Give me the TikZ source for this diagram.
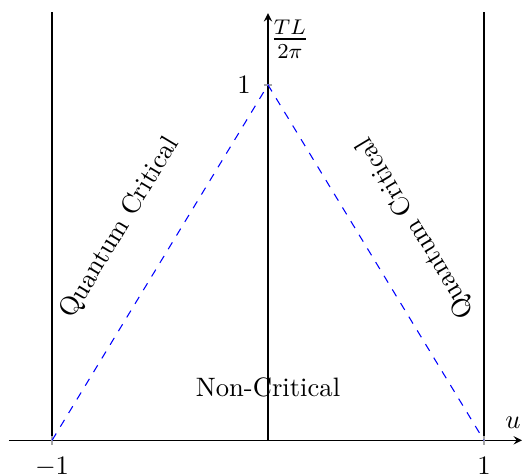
\documentclass[tikz,border=0pt]{standalone}
\usepackage{amsmath,amssymb}
\usetikzlibrary{arrows.meta,positioning,calc}

\begin{document}
\begin{tikzpicture}[x=2.85cm, y=4.69cm,
  axisline/.style={-stealth},
  wall/.style={thick},
  tickmark/.style={gray!70, line width=0.5pt},
  guide/.style={blue, dashed},
  regionlabel/.style={font=\normalsize}]
\useasboundingbox (-1.241,-0.098) rectangle (1.19,1.239);
% axes
\coordinate (xl) at (-1.2,0);
\coordinate (xr) at (1.176,0);
\coordinate (yb) at (0,0);
\coordinate (yt) at (0,1.202);
\draw[axisline] (xl) -- (xr) node[above left=1pt and -3pt] (ulab) {$u$};
\draw[axisline] (yb) -- (yt) node[below right=-1pt and -2.5pt, font=\fontsize{11.5}{13}\selectfont] (tlab) {$\frac{TL}{2\pi}$};
% walls at u = -1 and u = 1
\foreach \s/\n in {-1/wl,1/wr} {
  \coordinate (\n b) at (\s,0);
  \coordinate (\n t) at (\s,1.205);
  \draw[wall] (\n b) -- (\n t);
  \draw[tickmark] (\s,-0.012) -- (\s,0.012);
}
\node[below=3pt] (mlab) at (wlb) {$-1$};
\node[below=3pt] (plab) at (wrb) {$1$};
% peak
\coordinate (peak) at (0,1);
\draw[tickmark] (-0.02,1) -- (0.02,1);
\node[left=3pt] (onelab) at (peak) {$1$};
\draw[guide] (wlb) -- (peak) -- (wrb);
% regions
\node[regionlabel, rotate=59] (qcl) at (-0.685,0.598) {Quantum Critical};
\node[regionlabel, rotate=121] (qcr) at (0.685,0.598) {Quantum Critical};
\node[regionlabel] (ncr) at (0,0.149) {Non-Critical};
\end{tikzpicture}
\end{document}
